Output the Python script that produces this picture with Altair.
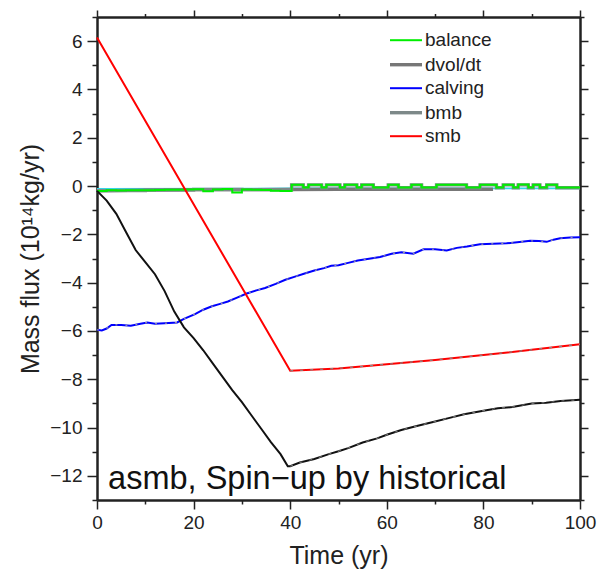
import altair as alt
import pandas as pd

# ---------------- data ----------------
legend_names = ["balance", "dvol/dt", "calving", "bmb", "smb"]
legend_colors = ["#00ee00", "#777777", "#0000ff", "#7d8989", "#ff0000"]
legend_widths = [2, 3.4, 2, 3.4, 2]

# balance (green), drawn as steps
balance_t = [0, 2, 4, 6, 8, 10, 12, 14, 16, 18, 20, 22, 24, 26, 28, 30, 32, 34, 36, 38,
             40.3, 42.7, 43.8, 46.5, 47.5, 50.3, 51.3, 53.8, 54.8, 57.2, 60.3, 62.4,
             65.1, 67.2, 70.3, 76.5, 79.3, 82.7, 84.1, 86.2, 87.2, 89.3, 90.3, 91.7,
             93.1, 95.2, 100]
balance_v = [-0.2, -0.17, -0.18, -0.17, -0.17, -0.17, -0.16, -0.15, -0.15, -0.14, -0.13,
             -0.22, -0.14, -0.12, -0.27, -0.14, -0.15, -0.16, -0.19, -0.2,
             0.05, -0.06, 0.05, -0.06, 0.05, -0.06, 0.05, -0.06, 0.05, -0.06, 0.05, -0.06,
             0.05, -0.06, 0.05, -0.06, 0.05, -0.06, 0.05, -0.06, 0.06, -0.06, 0.05, -0.06,
             0.05, -0.06, -0.06]

# dvol/dt (thick gray, mostly flat just below zero)
dvol_t = [0, 10, 20, 30, 40, 50, 60, 70, 82]
dvol_v = [-0.2, -0.17, -0.15, -0.15, -0.14, -0.13, -0.13, -0.13, -0.13]

# bmb (slate gray, under the balance line)
bmb_t = [0, 10, 20, 30, 40.3, 42.7, 43.8, 46.5, 47.5, 50.3, 51.3, 53.8, 54.8, 57.2,
         60.3, 62.4, 65.1, 67.2, 70.3, 76.5, 79.3, 82.7, 84.1, 86.2, 87.2, 89.3, 90.3,
         91.7, 93.1, 95.2, 100]
bmb_v = [-0.19, -0.17, -0.14, -0.15, 0.05, -0.07, 0.05, -0.07, 0.05, -0.07, 0.05, -0.07,
         0.05, -0.07, 0.05, -0.07, 0.05, -0.07, 0.05, -0.07, 0.05, -0.07, 0.05, -0.07,
         0.05, -0.07, 0.05, -0.07, 0.05, -0.07, -0.07]

# calving (blue)
calving_t = [0, 1, 2, 3, 5, 7, 9, 10.4, 12, 14, 16.6, 18, 20.3, 22, 23.8, 25.5, 27.1,
             29, 31, 33, 34.8, 37, 39, 41, 43, 45, 47, 48.5, 50, 52, 54, 56, 58.6, 61,
             63, 65.5, 67.6, 70, 72.4, 74.5, 76.6, 79.3, 82, 84.8, 87, 89.7, 91.5, 93.1,
             94.5, 95.9, 98, 100]
calving_v = [-5.95, -5.98, -5.9, -5.75, -5.75, -5.78, -5.7, -5.65, -5.7, -5.68, -5.65,
             -5.5, -5.3, -5.12, -4.98, -4.88, -4.78, -4.62, -4.45, -4.32, -4.22, -4.05,
             -3.88, -3.75, -3.62, -3.5, -3.4, -3.3, -3.28, -3.18, -3.08, -3.02, -2.94,
             -2.8, -2.74, -2.8, -2.62, -2.62, -2.67, -2.56, -2.5, -2.41, -2.39, -2.37,
             -2.33, -2.27, -2.28, -2.31, -2.22, -2.16, -2.13, -2.12]

# smb (red)
smb_t = [0, 40, 50, 60, 70, 80, 90, 100]
smb_v = [6.15, -7.65, -7.55, -7.38, -7.2, -7.0, -6.78, -6.55]

# total (black, not in legend)
total_t = [0, 2, 4, 6, 8, 10, 12, 14, 16, 18, 20, 22, 24, 26, 28, 30, 32, 34, 36, 38,
           39.5, 40, 42, 45, 48, 50, 52, 55, 58, 60, 63, 66, 70, 73, 76, 80, 83, 86, 90,
           93, 96, 100]
total_v = [-0.2, -0.6, -1.15, -1.9, -2.65, -3.15, -3.65, -4.35, -5.2, -5.85, -6.3, -6.8,
           -7.35, -7.9, -8.45, -8.95, -9.5, -10.05, -10.6, -11.1, -11.6, -11.6, -11.45,
           -11.3, -11.1, -10.98, -10.85, -10.62, -10.45, -10.3, -10.1, -9.95, -9.75,
           -9.6, -9.45, -9.3, -9.2, -9.15, -9.0, -8.97, -8.9, -8.85]

# cyan reference line near zero (not in legend)
ref_t = [0, 40, 100]
ref_v = [-0.12, -0.1, -0.1]

x_major = [0, 20, 40, 60, 80, 100]
x_minor = [10, 30, 50, 70, 90]
y_major = [-12, -10, -8, -6, -4, -2, 0, 2, 4, 6]
y_minor = [-13, -11, -9, -7, -5, -3, -1, 1, 3, 5, 7]

label_text = ["asmb, Spin\u2212up by historical"]
label_t = [2.3]
label_v = [-12.55]

# ---------------- build tables ----------------
rows = []
for name, ts, vs in [("balance", balance_t, balance_v), ("dvol/dt", dvol_t, dvol_v),
                     ("bmb", bmb_t, bmb_v), ("calving", calving_t, calving_v),
                     ("smb", smb_t, smb_v), ("total", total_t, total_v),
                     ("ref", ref_t, ref_v)]:
    for t, v in zip(ts, vs):
        rows.append({"t": t, "v": v, "series": name})
df = pd.DataFrame(rows)
txt = pd.DataFrame({"t": label_t, "v": label_v, "label": label_text})

FONT = "Liberation Sans"
sx = alt.Scale(domain=[0, 100], nice=False, zero=False)
sy = alt.Scale(domain=[-13, 7], nice=False, zero=False)

cscale = alt.Scale(domain=legend_names, range=legend_colors)
wscale = alt.Scale(type="ordinal", domain=legend_names, range=legend_widths)
leg = alt.Legend(title=None, orient="none", legendX=299, legendY=13.7,
                 symbolType="M-2,0H2", symbolSize=256, symbolFillColor="transparent",
                 labelFontSize=19, labelFont=FONT, labelColor="#222",
                 rowPadding=4.0, padding=0, labelOffset=9, symbolOffset=0)

ax_common = dict(tickColor="#222", tickWidth=1.5, grid=False,
                 domainColor="#222", domainWidth=2.5, labelFlush=False)

x_bottom_major = alt.Axis(values=x_major, orient="bottom", tickSize=9, labelFontSize=19,
                          labelFont=FONT, labelColor="#222", labelPadding=4,
                          title="Time (yr)", titleFont=FONT, titleFontSize=25,
                          titleFontWeight="normal", titleColor="#222", titlePadding=11,
                          domain=True, **ax_common)
x_bottom_minor = alt.Axis(values=x_minor, orient="bottom", tickSize=4, labels=False,
                          title=None, domain=False, **ax_common)
x_top_major = alt.Axis(values=x_major, orient="top", tickSize=7, labels=False,
                       title=None, domain=True, **ax_common)
x_top_minor = alt.Axis(values=x_minor, orient="top", tickSize=3.5, labels=False,
                       title=None, domain=False, **ax_common)
y_left_major = alt.Axis(values=y_major, orient="left", tickSize=10, labelFontSize=19,
                        labelFont=FONT, labelColor="#222", labelPadding=5,
                        title="Mass flux (10\u00b9\u2074kg/yr)", titleFont=FONT,
                        titleFontSize=25, titleFontWeight="normal", titleColor="#222",
                        titlePadding=6, domain=True, **ax_common)
y_left_minor = alt.Axis(values=y_minor, orient="left", tickSize=5, labels=False,
                        title=None, domain=False, **ax_common)
y_right_major = alt.Axis(values=y_major, orient="right", tickSize=8, labels=False,
                         title=None, domain=True, **ax_common)
y_right_minor = alt.Axis(values=y_minor, orient="right", tickSize=4, labels=False,
                         title=None, domain=False, **ax_common)

base = alt.Chart(df)


def series_layer(name, xaxis=None, yaxis=None, **mark_kw):
    enc = dict(
        x=alt.X("t:Q", scale=sx, axis=xaxis),
        y=alt.Y("v:Q", scale=sy, axis=yaxis),
        color=alt.Color("series:N", scale=cscale, legend=leg),
        strokeWidth=alt.StrokeWidth("series:N", scale=wscale, legend=leg),
    )
    return base.transform_filter(alt.datum.series == name).mark_line(**mark_kw).encode(**enc)


ref_layer = base.transform_filter(alt.datum.series == "ref").mark_line(
    color="#33d6e8", strokeWidth=1.8).encode(
    x=alt.X("t:Q", scale=sx, axis=x_bottom_major),
    y=alt.Y("v:Q", scale=sy, axis=y_left_major))

dvol_layer = series_layer("dvol/dt", x_bottom_minor, y_left_minor)
bmb_layer = series_layer("bmb", x_top_major, y_right_major, interpolate="step-after")
bal_layer = series_layer("balance", x_top_minor, y_right_minor, interpolate="step-after")
calv_layer = series_layer("calving")
smb_layer = series_layer("smb")

total_layer = base.transform_filter(alt.datum.series == "total").mark_line(
    color="#111111", strokeWidth=2).encode(
    x=alt.X("t:Q", scale=sx, axis=None), y=alt.Y("v:Q", scale=sy, axis=None))

# faint gray dashed overlays seen on the coloured curves
over_calv = base.transform_filter(alt.datum.series == "calving").mark_line(
    color="#999999", strokeWidth=1.1, strokeDash=[2, 8]).encode(
    x=alt.X("t:Q", scale=sx, axis=None), y=alt.Y("v:Q", scale=sy, axis=None))
over_smb = base.transform_filter(
    (alt.datum.series == "smb") & (alt.datum.t >= 40)).mark_line(
    color="#888888", strokeWidth=1.2, strokeDash=[3, 7]).encode(
    x=alt.X("t:Q", scale=sx, axis=None), y=alt.Y("v:Q", scale=sy, axis=None))
over_total = base.transform_filter(
    (alt.datum.series == "total") & (alt.datum.t >= 40)).mark_line(
    color="#777777", strokeWidth=1.1, strokeDash=[3, 7]).encode(
    x=alt.X("t:Q", scale=sx, axis=None), y=alt.Y("v:Q", scale=sy, axis=None))

text_layer = alt.Chart(txt).mark_text(
    align="left", baseline="alphabetic", fontSize=32.5, font=FONT, color="#111").encode(
    x=alt.X("t:Q", scale=sx, axis=None), y=alt.Y("v:Q", scale=sy, axis=None),
    text="label:N")

chart = alt.layer(
    ref_layer, dvol_layer, bmb_layer, bal_layer, calv_layer, total_layer, smb_layer,
    over_calv, over_smb, over_total, text_layer
).resolve_axis(x="independent", y="independent").properties(
    width=483, height=483,
    autosize=alt.AutoSizeParams(type="none"),
    padding={"left": 97, "top": 17, "right": 20, "bottom": 72},
).configure_view(stroke="#222", strokeWidth=2.5).configure(background="white")

chart.save("out.html", embed_options={"renderer": "svg", "actions": False})
